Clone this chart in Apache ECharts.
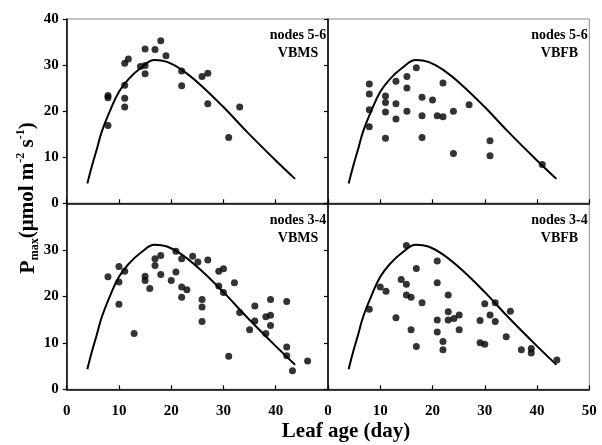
<!DOCTYPE html>
<html><head><meta charset="utf-8">
<script src="https://cdn.jsdelivr.net/npm/echarts@6/dist/echarts.min.js"></script>
<style>html,body{margin:0;padding:0;background:#fff}#c{width:602px;height:445px}</style>
</head><body><div id="c"></div>
<script>
// ---- data ----
const xTickValues = [0, 10, 20, 30, 40, 50];
const yTickValues = [0, 10, 20, 30, 40];

const curveAge  = [3.95, 4.8, 5.8, 6.7, 8.3, 10, 11.8, 14.1, 16.8, 19.2, 22.1, 25.6, 29.9, 34.5, 39.9, 43.7];
const curvePmax = [4.3, 8.0, 11.9, 15.5, 20.1, 24.2, 26.9, 29.3, 31.1, 30.7, 28.9, 25.7, 21.0, 15.5, 9.4, 5.3];

// nodes 5-6, VBMS
const n56msAge  = [7.9, 7.9, 7.9, 11.1, 11.8, 11.1, 11.1, 11.1, 15.0, 14.1, 15.0, 15.0, 16.9, 18.0, 19.0, 22.0, 22.0, 25.9, 27.0, 27.0, 31.0, 33.1];
const n56msPmax = [23.4, 22.9, 16.9, 30.4, 31.3, 25.6, 22.8, 20.9, 33.5, 29.7, 29.9, 28.1, 33.4, 35.3, 32.0, 28.7, 25.5, 27.5, 28.2, 21.6, 14.3, 20.9];

// nodes 5-6, VBFB
const n56fbAge  = [7.9, 7.9, 7.9, 7.9, 11.0, 11.0, 11.0, 11.0, 13.0, 13.0, 13.0, 15.1, 15.1, 15.1, 16.9, 18.0, 18.0, 18.0, 20.0, 20.9, 22.0, 22.0, 24.0, 24.0, 27.0, 31.0, 31.0, 41.0];
const n56fbPmax = [25.9, 23.7, 20.3, 16.6, 23.3, 21.9, 19.8, 14.1, 26.5, 21.6, 18.3, 27.5, 25.0, 20.0, 29.4, 23.0, 19.0, 14.3, 22.4, 19.0, 26.1, 18.8, 20.0, 10.8, 21.4, 13.6, 10.3, 8.4];

// nodes 3-4, VBMS
const n34msAge  = [7.9, 10.0, 10.0, 10.0, 11.1, 12.9, 15.0, 15.0, 15.9, 16.9, 16.9, 18.0, 18.0, 20.0, 20.9, 20.9, 22.0, 22.0, 22.0, 23.0, 24.1, 25.1, 25.9, 25.9, 25.9, 27.0, 29.1, 30.0, 29.1, 30.0, 31.0, 32.1, 33.1, 35.0, 36.0, 36.0, 38.1, 38.1, 39.0, 39.0, 39.0, 42.1, 42.1, 42.1, 43.2, 46.1];
const n34msPmax = [24.2, 26.4, 23.1, 18.3, 25.4, 12.0, 24.3, 23.4, 21.7, 28.1, 26.6, 28.8, 24.7, 23.4, 29.7, 25.2, 28.1, 22.0, 19.8, 21.4, 28.6, 27.4, 19.3, 17.7, 14.6, 27.8, 25.4, 25.9, 22.2, 20.8, 7.1, 22.9, 16.5, 12.8, 17.9, 14.7, 12.0, 15.6, 15.9, 19.3, 13.7, 18.9, 9.1, 7.2, 4.0, 6.1];

// nodes 3-4, VBFB
const n34fbAge  = [7.9, 10.0, 11.1, 13.0, 14.0, 15.0, 15.0, 15.0, 15.9, 15.9, 16.9, 16.9, 18.0, 20.9, 20.9, 20.9, 20.9, 22.0, 22.0, 23.0, 23.0, 23.0, 24.1, 25.1, 25.1, 29.1, 29.1, 30.0, 30.0, 31.0, 32.0, 32.0, 34.1, 34.9, 37.0, 38.9, 38.9, 43.8];
const n34fbPmax = [17.2, 22.0, 21.1, 15.4, 23.6, 30.9, 22.6, 20.3, 19.8, 12.8, 26.0, 9.2, 18.6, 27.6, 22.9, 14.9, 12.3, 10.3, 8.5, 20.3, 16.7, 14.9, 15.2, 16.0, 12.8, 14.8, 10.0, 18.4, 9.7, 16.0, 14.6, 18.6, 11.3, 16.8, 8.5, 8.8, 7.8, 6.3];

const panelNodes = ['nodes 5-6', 'nodes 5-6', 'nodes 3-4', 'nodes 3-4'];
const panelTreat = ['VBMS', 'VBFB', 'VBMS', 'VBFB'];
const xTitle = 'Leaf age (day)';

// ---- build ----
const F = 'Liberation Serif';
const ages = [n56msAge, n56fbAge, n34msAge, n34fbAge];
const pmaxs = [n56msPmax, n56fbPmax, n34msPmax, n34fbPmax];
const zip = (a, b) => a.map((v, i) => [v, b[i]]);

const grids = [
  { left: 66.7, top: 19, width: 261.3, height: 184.3 },
  { left: 328, top: 19, width: 261.3, height: 184.3 },
  { left: 66.7, top: 203.3, width: 261.3, height: 186 },
  { left: 328, top: 203.3, width: 261.3, height: 186 }
].map(g => Object.assign(g, { show: true, borderColor: '#8a8a8a', borderWidth: 1, backgroundColor: 'transparent' }));

const labelStyle = { color: '#000', fontFamily: F, fontWeight: 'bold', fontSize: 15 };

const xAxes = [0, 1, 2, 3].map(i => ({
  type: 'value', gridIndex: i,
  min: xTickValues[0], max: xTickValues[xTickValues.length - 1], interval: xTickValues[1] - xTickValues[0],
  axisLine: { onZero: false, lineStyle: { color: '#000', width: 1.5 } },
  axisTick: { inside: true, length: 4, lineStyle: { color: '#000', width: 1.2 } },
  splitLine: { show: false },
  axisLabel: Object.assign({ show: i >= 2, showMaxLabel: i === 3, showMinLabel: true, margin: 14 }, labelStyle)
}));
const yAxes = [0, 1, 2, 3].map(i => ({
  type: 'value', gridIndex: i,
  min: yTickValues[0], max: yTickValues[yTickValues.length - 1], interval: yTickValues[1] - yTickValues[0],
  axisLine: { onZero: false, lineStyle: { color: '#000', width: 1.5 } },
  axisTick: { inside: false, length: 4, lineStyle: { color: '#000', width: 1.2 } },
  splitLine: { show: false },
  axisLabel: Object.assign({ show: i === 0 || i === 2, showMaxLabel: i === 0, showMinLabel: true, margin: 8 }, labelStyle)
}));

const series = [];
for (let i = 0; i < 4; i++) {
  series.push({
    type: 'line', xAxisIndex: i, yAxisIndex: i,
    data: zip(curveAge, curvePmax), smooth: 0.4, showSymbol: false, silent: true,
    lineStyle: { color: '#000', width: 2 }, z: 2
  });
  series.push({
    type: 'scatter', xAxisIndex: i, yAxisIndex: i,
    data: zip(ages[i], pmaxs[i]), symbol: 'circle', symbolSize: 7,
    itemStyle: { color: '#000' }, z: 3
  });
}

const panelPos = [[298, 26], [559.5, 26], [298, 211], [559.5, 211]];
const graphic = panelPos.map((p, i) => ({
  type: 'text', x: p[0], y: p[1], z: 10,
  style: {
    text: panelNodes[i] + '\n' + panelTreat[i], textAlign: 'center', textVerticalAlign: 'top',
    font: 'bold 14px "Liberation Serif"', lineHeight: 18, fill: '#000'
  }
}));
graphic.push({
  type: 'text', x: 346, y: 432,
  style: { text: xTitle, textAlign: 'center', textVerticalAlign: 'middle', font: 'bold 21px "Liberation Serif"', fill: '#000' }
});
graphic.push({
  type: 'text', x: 28, y: 198, rotation: Math.PI / 2,
  style: {
    text: '{p|P}{s|max}{n|(μmol m}{u|-2}{n| s}{u|-1}{n|)}',
    textAlign: 'center', textVerticalAlign: 'middle', fill: '#000',
    rich: {
      p: { fontFamily: F, fontWeight: 'bold', fontSize: 22, lineHeight: 26, verticalAlign: 'middle' },
      s: { fontFamily: F, fontWeight: 'bold', fontSize: 12, verticalAlign: 'bottom', lineHeight: 26, padding: [10, 0, 0, 0] },
      n: { fontFamily: F, fontWeight: 'bold', fontSize: 21, lineHeight: 26 },
      u: { fontFamily: F, fontWeight: 'bold', fontSize: 12, verticalAlign: 'top', lineHeight: 26, padding: [0, 0, 10, 0] }
    }
  }
});

const chart = echarts.init(document.getElementById('c'), null, { renderer: 'canvas' });
chart.setOption({
  animation: false,
  backgroundColor: '#fff',
  grid: grids, xAxis: xAxes, yAxis: yAxes, series, graphic
});
</script></body></html>
